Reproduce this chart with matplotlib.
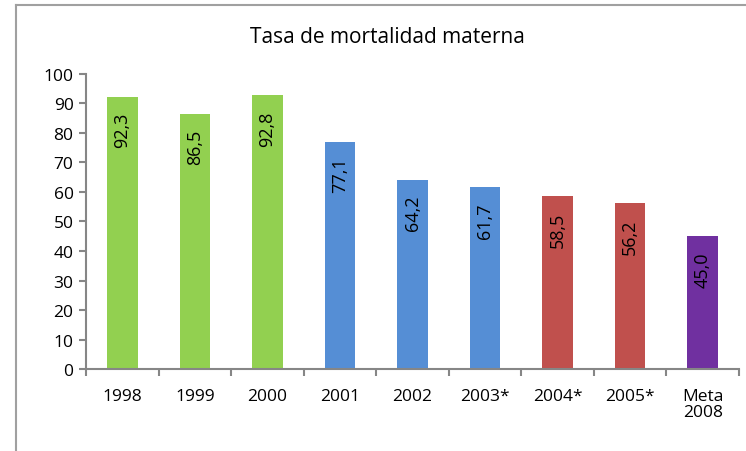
import matplotlib
matplotlib.use("Agg")
import matplotlib.pyplot as plt
from matplotlib.lines import Line2D
import numpy as np

# data
categories = ["1998", "1999", "2000", "2001", "2002", "2003*", "2004*", "2005*", "Meta\n2008"]
values = [92.3, 86.5, 92.8, 77.1, 64.2, 61.7, 58.5, 56.2, 45.0]
labels = ["92,3", "86,5", "92,8", "77,1", "64,2", "61,7", "58,5", "56,2", "45,0"]
colors = ["#92D050", "#92D050", "#92D050", "#558ED5", "#558ED5", "#558ED5",
          "#C0504D", "#C0504D", "#7030A0"]

plt.rcParams['font.family'] = ['Open Sans', 'DejaVu Sans']

fig = plt.figure(figsize=(7.46, 4.52), dpi=100)
ax = fig.add_axes([0.1153, 0.1814, 0.8753, 0.6527])

x = np.arange(len(categories))
ax.bar(x, values, width=0.42, color=colors)

for xi, v, lab in zip(x, values, labels):
    ax.annotate(lab, (xi, v), xytext=(0, -11), textcoords="offset points",
                rotation=90, ha="center", va="top", fontsize=13, color="black")

ax.set_xlim(-0.5, len(categories) - 0.5)
ax.set_ylim(0, 100)
ax.set_yticks(range(0, 101, 10))
ax.tick_params(axis="y", labelsize=12.5, length=5, width=1.5, color="#868686", pad=4)

ax.set_xticks(x)
ax.set_xticklabels(categories, fontsize=12.5, va="top", linespacing=1.0)
ax.tick_params(axis="x", which="major", length=0, pad=14)
ax.set_xticks(np.arange(len(categories) + 1) - 0.5, minor=True)
ax.tick_params(axis="x", which="minor", length=5, width=1.5, color="#868686")

for side in ("top", "right"):
    ax.spines[side].set_visible(False)
for side in ("left", "bottom"):
    ax.spines[side].set_color("#868686")
    ax.spines[side].set_linewidth(1.5)

fig.text(0.52, 0.918, "Tasa de mortalidad materna", ha="center", va="center",
         fontsize=15, fontweight="medium")

# chart frame (cropped: only top and left edges visible)
fx = 16 / 746
fy = 1 - 6 / 452
fig.add_artist(Line2D([fx, 1.0], [fy, fy], color="#A0A0A0", lw=1.5, transform=fig.transFigure))
fig.add_artist(Line2D([fx, fx], [fy, 0.0], color="#A0A0A0", lw=1.5, transform=fig.transFigure))

fig.savefig("out.png", dpi=100)
